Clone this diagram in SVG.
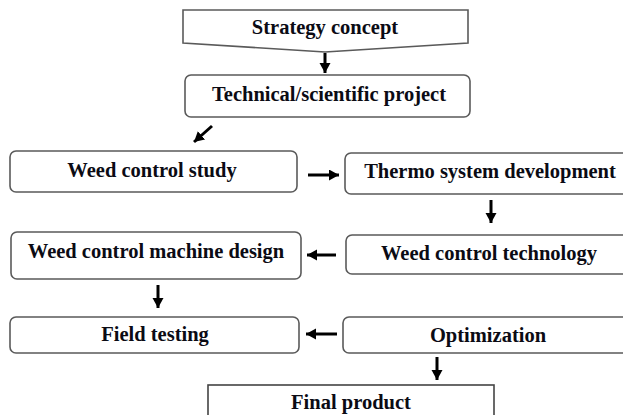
<svg xmlns="http://www.w3.org/2000/svg" width="623" height="415" viewBox="0 0 623 415">
<style>
.box{fill:#fff;stroke:#5a5a5a;stroke-width:1.6}
.t{font-family:"Liberation Serif","Times New Roman",serif;font-weight:bold;font-size:20.5px;fill:#0b0b14;text-anchor:middle}
.c{stroke:#000;stroke-width:3;fill:none;marker-end:url(#ah)}
</style>
<defs>
<marker id="ah" markerUnits="userSpaceOnUse" markerWidth="12" markerHeight="12" refX="10" refY="5.5" orient="auto">
<path d="M0,0 L10,5.5 L0,11 Z" fill="#000"/>
</marker>
</defs>
<rect width="623" height="415" fill="#fff"/>
<g id="strategy">
<polygon class="box" points="183,10 468,10 468,43 325,52 183,43"/>
<text class="t" x="325" y="34">Strategy concept</text>
</g>
<g id="technical">
<rect class="box" x="185" y="75" width="285" height="42" rx="6"/>
<text class="t" x="329" y="101">Technical/scientific project</text>
</g>
<g id="weedstudy">
<rect class="box" x="10" y="151" width="287" height="41" rx="6"/>
<text class="t" x="152" y="177">Weed control study</text>
</g>
<g id="thermo">
<rect class="box" x="345" y="153" width="300" height="41" rx="6"/>
<text class="t" x="490" y="178">Thermo system development</text>
</g>
<g id="weedtech">
<rect class="box" x="346" y="235" width="300" height="39" rx="6"/>
<text class="t" x="489" y="260">Weed control technology</text>
</g>
<g id="machine">
<rect class="box" x="11" y="232" width="290" height="47" rx="6"/>
<text class="t" x="156" y="258">Weed control machine design</text>
</g>
<g id="field">
<rect class="box" x="10" y="317" width="289" height="36" rx="6"/>
<text class="t" x="155" y="341">Field testing</text>
</g>
<g id="optim">
<rect class="box" x="343" y="317" width="300" height="36" rx="6"/>
<text class="t" x="488" y="342">Optimization</text>
</g>
<g id="final">
<rect x="208" y="385" width="286" height="40" fill="#fff" stroke="#444" stroke-width="1.6"/>
<text class="t" x="351" y="409">Final product</text>
</g>
<g id="connectors">
<line class="c" x1="325" y1="53" x2="325" y2="73"/>
<line class="c" x1="212" y1="126" x2="194" y2="142"/>
<line class="c" x1="308" y1="175" x2="339" y2="175"/>
<line class="c" x1="491" y1="200" x2="491" y2="223"/>
<line class="c" x1="336" y1="255" x2="307" y2="255"/>
<line class="c" x1="158" y1="285" x2="158" y2="308"/>
<line class="c" x1="337" y1="334" x2="306" y2="334"/>
<line class="c" x1="437" y1="357" x2="437" y2="380"/>
</g>
</svg>
